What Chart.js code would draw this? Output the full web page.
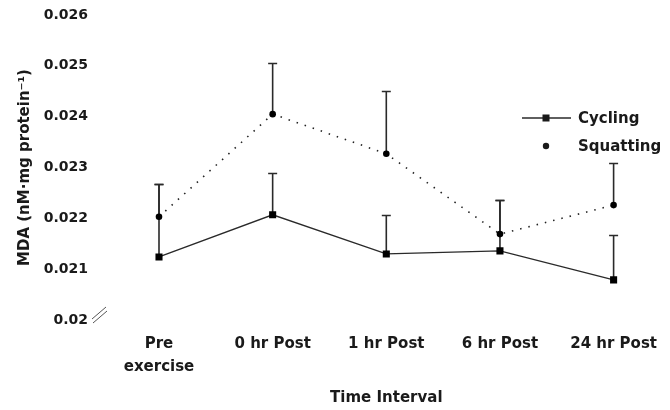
<!DOCTYPE html>
<html>
<head>
<meta charset="utf-8">
<script src="https://cdn.jsdelivr.net/npm/chart.js@4"></script>
<style>
  html, body { margin: 0; padding: 0; background: #fff; }
  #wrap { width: 670px; height: 410px; }
</style>
</head>
<body>
<div id="wrap"><canvas id="mda"></canvas></div>
<script>
const intervals = [['Pre', 'exercise'], '0 hr Post', '1 hr Post', '6 hr Post', '24 hr Post']
const cycling_mean = [0.02124, 0.02207, 0.02130, 0.02136, 0.02079]
const cycling_err = [0.00144, 0.00082, 0.00077, 0.00100, 0.00088]
const squatting_mean = [0.02203, 0.02405, 0.02327, 0.02169, 0.02226]
const squatting_err = [0.00065, 0.00101, 0.00123, 0.00067, 0.00083]
const y_ticks = [0.020, 0.021, 0.022, 0.023, 0.024, 0.025, 0.026]

const fuente = 'DejaVu Sans'
const tinta = '#1a1a1a'

// barras de error (solo hacia arriba, con tope)
const erroresPlugin = {
    id: 'errores',
    beforeDatasetsDraw(chart) {
        const ctx = chart.ctx
        const y = chart.scales.y
        ctx.save()
        ctx.strokeStyle = '#2a2a2a'
        ctx.lineWidth = 1.6
        chart.data.datasets.forEach((ds, i) => {
            const meta = chart.getDatasetMeta(i)
            meta.data.forEach((pt, j) => {
                const top = Math.round(y.getPixelForValue(ds.data[j] + ds.errores[j])) + 0.5
                ctx.beginPath()
                ctx.moveTo(pt.x, pt.y)
                ctx.lineTo(pt.x, top)
                ctx.moveTo(pt.x - 4.5, top)
                ctx.lineTo(pt.x + 4.5, top)
                ctx.stroke()
            })
        })
        ctx.restore()
    },
    afterDraw(chart) {
        const ctx = chart.ctx
        const y = chart.scales.y
        const base = y.getPixelForValue(0.02)
        ctx.save()
        // marca de corte del eje
        ctx.strokeStyle = '#555'
        ctx.lineWidth = 1
        ctx.beginPath()
        ctx.moveTo(92, base - 1); ctx.lineTo(106, base - 13)
        ctx.moveTo(93, base + 3); ctx.lineTo(107, base - 9)
        ctx.stroke()

        // leyenda
        ctx.fillStyle = tinta
        ctx.strokeStyle = '#2a2a2a'
        ctx.lineWidth = 1.4
        ctx.beginPath()
        ctx.moveTo(522, 118); ctx.lineTo(571, 118)
        ctx.stroke()
        ctx.fillRect(542.5, 114.5, 7, 7)
        ctx.beginPath()
        ctx.arc(546, 146, 3.2, 0, Math.PI * 2)
        ctx.fill()
        ctx.font = 'bold 15px "' + fuente + '"'
        ctx.textBaseline = 'middle'
        ctx.fillText(chart.data.datasets[0].label, 578, 119)
        ctx.fillText(chart.data.datasets[1].label, 578, 147)
        ctx.restore()
    }
}

const mda = document.getElementById('mda').getContext('2d')

new Chart(mda, {
    type: 'line',
    data: {
        labels: intervals,
        datasets: [{
            label: 'Cycling',
            data: cycling_mean,
            errores: cycling_err,
            borderColor: '#2a2a2a',
            borderWidth: 1.3,
            pointStyle: 'rect',
            pointRadius: 5,
            pointBackgroundColor: '#000',
            pointBorderWidth: 0,
            tension: 0
        }, {
            label: 'Squatting',
            data: squatting_mean,
            errores: squatting_err,
            borderColor: '#222',
            borderWidth: 1.6,
            borderDash: [1.5, 7],
            pointStyle: 'circle',
            pointRadius: 3.3,
            pointBackgroundColor: '#000',
            pointBorderWidth: 0,
            tension: 0
        }]
    },
    options: {
        responsive: true,
        maintainAspectRatio: false,
        animation: false,
        layout: {
            padding: { top: 15, right: 47, left: 0, bottom: 0 }
        },
        scales: {
            x: {
                offset: false,
                border: { display: false },
                grid: { display: false, drawTicks: false },
                ticks: {
                    color: tinta,
                    padding: 13,
                    maxRotation: 0,
                    autoSkip: false,
                    font: { family: fuente, size: 15, weight: 'bold', lineHeight: 1.5 }
                },
                title: {
                    display: true,
                    text: 'Time Interval',
                    color: tinta,
                    padding: { top: 0, bottom: 3 },
                    font: { family: fuente, size: 15, weight: 'bold' }
                },
                afterFit: s => { s.height = 90 }
            },
            y: {
                min: 0.02,
                max: 0.026,
                border: { display: false },
                grid: { display: false, drawTicks: false },
                afterBuildTicks: s => { s.ticks = y_ticks.map(v => ({ value: v })) },
                ticks: {
                    color: tinta,
                    padding: 71,
                    font: { family: fuente, size: 14, weight: 'bold' },
                    callback: v => String(+v.toFixed(3))
                },
                title: {
                    display: true,
                    text: 'MDA (nM·mg protein⁻¹)',
                    color: tinta,
                    padding: { top: 16, bottom: 0 },
                    font: { family: fuente, size: 15, weight: 'bold' }
                },
                afterFit: s => {
                    s.width = 159
                    s.paddingTop = 0
                    s.paddingBottom = 0
                }
            }
        },
        plugins: {
            legend: { display: false },
            tooltip: { enabled: false }
        }
    },
    plugins: [erroresPlugin]
});
</script>
</body>
</html>
